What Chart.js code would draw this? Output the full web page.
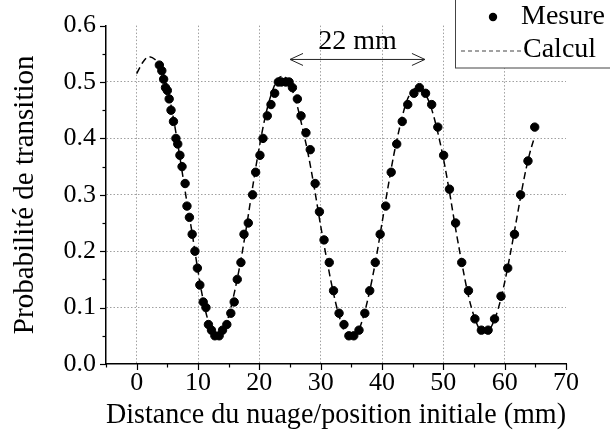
<!DOCTYPE html>
<html>
<head>
<meta charset="utf-8">
<script src="https://cdn.jsdelivr.net/npm/chart.js@4"></script>
<style>
  body { margin: 0; background: #fff; }
  #wrap { width: 610px; height: 446px; }
</style>
</head>
<body>
<div id="wrap"><canvas id="graphe"></canvas></div>
<script>
// valeurs mesurées
const mesureX = [3.7, 4.1, 4.4, 4.7, 5.0, 5.3, 5.6, 6.0, 6.4, 6.7, 7.05, 7.4, 7.9, 8.2, 8.6, 9.05, 9.5, 9.9, 10.3, 10.85,
  11.3, 11.7, 12.2, 12.75, 13.45, 14.0, 14.7, 15.35, 15.9, 16.4, 17.0, 17.5, 18.2, 18.9, 19.4, 20.1, 20.6, 21.3, 21.9, 22.5,
  23.1, 23.6, 24.3, 24.85, 25.4, 26.2, 26.8, 27.6, 28.3, 29.1, 29.8, 30.55, 31.4, 32.1, 33.0, 33.8, 34.6, 35.4, 36.25, 37.2,
  38.0, 38.9, 39.7, 40.6, 41.5, 42.4, 43.3, 44.2, 45.2, 46.1, 47.1, 48.1, 49.1, 50.05, 51.0, 52.0, 53.0, 54.1, 55.15, 56.2,
  57.3, 58.35, 59.4, 60.5, 61.6, 62.6, 63.8, 64.9];
const mesureY = [0.53, 0.52, 0.505, 0.49, 0.485, 0.47, 0.45, 0.43, 0.40, 0.39, 0.37, 0.35, 0.32, 0.28, 0.26, 0.23, 0.20, 0.17, 0.14, 0.11,
  0.10, 0.07, 0.06, 0.05, 0.05, 0.06, 0.07, 0.09, 0.11, 0.15, 0.18, 0.23, 0.25, 0.30, 0.34, 0.37, 0.40, 0.44, 0.46, 0.48,
  0.50, 0.50, 0.50, 0.50, 0.49, 0.47, 0.44, 0.41, 0.38, 0.32, 0.27, 0.22, 0.18, 0.13, 0.09, 0.07, 0.05, 0.05, 0.06, 0.09,
  0.13, 0.18, 0.23, 0.28, 0.34, 0.39, 0.43, 0.46, 0.48, 0.49, 0.48, 0.46, 0.42, 0.37, 0.31, 0.25, 0.18, 0.13, 0.08, 0.06,
  0.06, 0.08, 0.12, 0.17, 0.23, 0.30, 0.36, 0.42];

// courbe calculée
const calculX = [0, 1, 2, 3, 4, 5, 6, 7, 8, 9, 10, 11, 12, 13, 14, 15, 16, 17, 18, 19, 20, 21, 22, 23, 24, 25, 26, 27, 28, 29,
  30, 31, 32, 33, 34, 35, 36, 37, 38, 39, 40, 41, 42, 43, 44, 45, 46, 47, 48, 49, 50, 51, 52, 53, 54, 55, 56, 57, 58, 59,
  60, 61, 62, 63, 64, 64.8];
const calculY = [0.515, 0.535, 0.545, 0.54, 0.525, 0.49, 0.435, 0.37, 0.30, 0.235, 0.165, 0.105, 0.065, 0.045, 0.055, 0.085, 0.13, 0.185, 0.25, 0.32,
  0.385, 0.44, 0.48, 0.505, 0.51, 0.495, 0.465, 0.42, 0.37, 0.31, 0.245, 0.185, 0.13, 0.085, 0.055, 0.045, 0.055, 0.085, 0.13, 0.185,
  0.25, 0.315, 0.375, 0.425, 0.465, 0.485, 0.49, 0.48, 0.455, 0.415, 0.365, 0.305, 0.24, 0.18, 0.125, 0.085, 0.06, 0.055, 0.07, 0.10,
  0.145, 0.20, 0.26, 0.32, 0.37, 0.40];

const xTicks = [0, 10, 20, 30, 40, 50, 60, 70];
const yTicks = [0.0, 0.1, 0.2, 0.3, 0.4, 0.5, 0.6];
const legendes = ['Mesure', 'Calcul'];
const fleche = { x1: 25, x2: 47, y: 0.54, texte: '22 mm', ty: 0.572 };

const police = 'Liberation Serif';
const grille = '#a0a0a0';

const majeurX = v => Math.abs(v % 10) < 1e-6;
const majeurY = v => Math.abs(Math.round(v * 100) % 10) === 0;

const decor = {
  id: 'decor',
  afterDraw(chart) {
    const ctx = chart.ctx;
    const sx = chart.scales.x, sy = chart.scales.y;
    const bas = sy.getPixelForValue(0), gauche = sx.getPixelForValue(-5);
    ctx.save();
    ctx.strokeStyle = '#000';
    ctx.lineWidth = 1.2;
    // graduations
    for (let v = -5; v <= 70; v += 5) {
      const px = Math.round(sx.getPixelForValue(v)) + 0.5;
      const l = majeurX(v) ? 6 : 3.5;
      ctx.beginPath(); ctx.moveTo(px, bas); ctx.lineTo(px, bas + l); ctx.stroke();
    }
    for (let i = 0; i <= 12; i++) {
      const v = i * 0.05;
      const py = Math.round(sy.getPixelForValue(v)) + 0.5;
      const l = i % 2 === 0 ? 6 : 3.5;
      ctx.beginPath(); ctx.moveTo(gauche, py); ctx.lineTo(gauche - l, py); ctx.stroke();
    }

    // flèche 22 mm
    const ax1 = sx.getPixelForValue(fleche.x1), ax2 = sx.getPixelForValue(fleche.x2);
    const ay = sy.getPixelForValue(fleche.y);
    ctx.strokeStyle = '#222';
    ctx.lineWidth = 1;
    ctx.beginPath();
    ctx.moveTo(ax1, ay); ctx.lineTo(ax2, ay);
    ctx.moveTo(ax1 + 13, ay - 6); ctx.lineTo(ax1, ay); ctx.lineTo(ax1 + 13, ay + 6);
    ctx.moveTo(ax2 - 13, ay - 6); ctx.lineTo(ax2, ay); ctx.lineTo(ax2 - 13, ay + 6);
    ctx.stroke();
    ctx.fillStyle = '#000';
    ctx.font = '28px "' + police + '"';
    ctx.textAlign = 'center';
    ctx.textBaseline = 'middle';
    ctx.fillText(fleche.texte, (ax1 + ax2) / 2, sy.getPixelForValue(fleche.ty));

    // légende
    ctx.fillStyle = '#fff';
    ctx.fillRect(455.5, -1, 160, 69);
    ctx.strokeStyle = '#444';
    ctx.lineWidth = 1;
    ctx.strokeRect(455.5, -1, 160, 69);
    ctx.fillStyle = '#000';
    ctx.beginPath(); ctx.arc(493, 17, 4.2, 0, Math.PI * 2); ctx.fill();
    ctx.lineWidth = 1.2;
    ctx.setLineDash([4, 3]);
    ctx.beginPath(); ctx.moveTo(461, 51); ctx.lineTo(522, 51); ctx.stroke();
    ctx.setLineDash([]);
    ctx.textAlign = 'left';
    ctx.font = '28px "' + police + '"';
    ctx.fillText(legendes[0], 521, 17);
    ctx.fillText(legendes[1], 523, 50);
    ctx.restore();
  }
};

new Chart(document.getElementById('graphe'), {
  type: 'scatter',
  data: {
    datasets: [
      {
        label: legendes[0],
        data: mesureX.map((x, i) => ({ x: x, y: mesureY[i] })),
        backgroundColor: '#000',
        borderColor: '#000',
        pointRadius: 4.2,
        pointHoverRadius: 4.2,
        order: 0
      },
      {
        label: legendes[1],
        data: calculX.map((x, i) => ({ x: x, y: calculY[i] })),
        showLine: true,
        borderColor: '#000',
        borderWidth: 1.5,
        borderDash: [7, 4],
        pointRadius: 0,
        cubicInterpolationMode: 'monotone',
        fill: false,
        order: 1
      }
    ]
  },
  options: {
    responsive: true,
    maintainAspectRatio: false,
    animation: false,
    layout: { padding: { top: 21, right: 44, left: 0, bottom: 0 } },
    plugins: { legend: { display: false }, tooltip: { enabled: false } },
    scales: {
      x: {
        type: 'linear',
        min: -5,
        max: 70,
        afterFit: s => { s.height = 82; },
        afterBuildTicks: s => { s.ticks = []; for (let v = -5; v <= 70; v += 5) s.ticks.push({ value: v }); },
        ticks: {
          autoSkip: false,
          maxRotation: 0,
          padding: 4,
          color: '#000',
          font: { family: police, size: 26 },
          callback: v => (majeurX(v) && xTicks.includes(v)) ? String(v) : ''
        },
        grid: {
          drawTicks: false,
          lineWidth: 1,
          color: c => (c.tick && majeurX(c.tick.value) && c.tick.value >= 0 && c.tick.value < 70) ? grille : 'rgba(0,0,0,0)'
        },
        border: { display: true, color: '#000', width: 1.5, dash: [1.5, 2] },
        title: {
          display: true,
          text: 'Distance du nuage/position initiale (mm)',
          color: '#000',
          font: { family: police, size: 29 },
          padding: { top: 0, bottom: 13 }
        }
      },
      y: {
        type: 'linear',
        min: 0,
        max: 0.6,
        afterFit: s => { s.width = 106; },
        afterBuildTicks: s => { s.ticks = []; for (let i = 0; i <= 12; i++) s.ticks.push({ value: i * 0.05 }); },
        ticks: {
          autoSkip: false,
          padding: 10,
          color: '#000',
          font: { family: police, size: 26 },
          callback: v => majeurY(v) ? v.toFixed(1) : ''
        },
        grid: {
          drawTicks: false,
          lineWidth: 1,
          color: c => (c.tick && majeurY(c.tick.value) && c.tick.value > 0.01 && c.tick.value < 0.59) ? grille : 'rgba(0,0,0,0)'
        },
        border: { display: true, color: '#000', width: 1.5, dash: [1.5, 2] },
        title: {
          display: true,
          text: 'Probabilité de transition',
          color: '#000',
          font: { family: police, size: 29 },
          padding: { top: 8, bottom: 0 }
        }
      }
    }
  },
  plugins: [decor]
});
</script>
</body>
</html>
